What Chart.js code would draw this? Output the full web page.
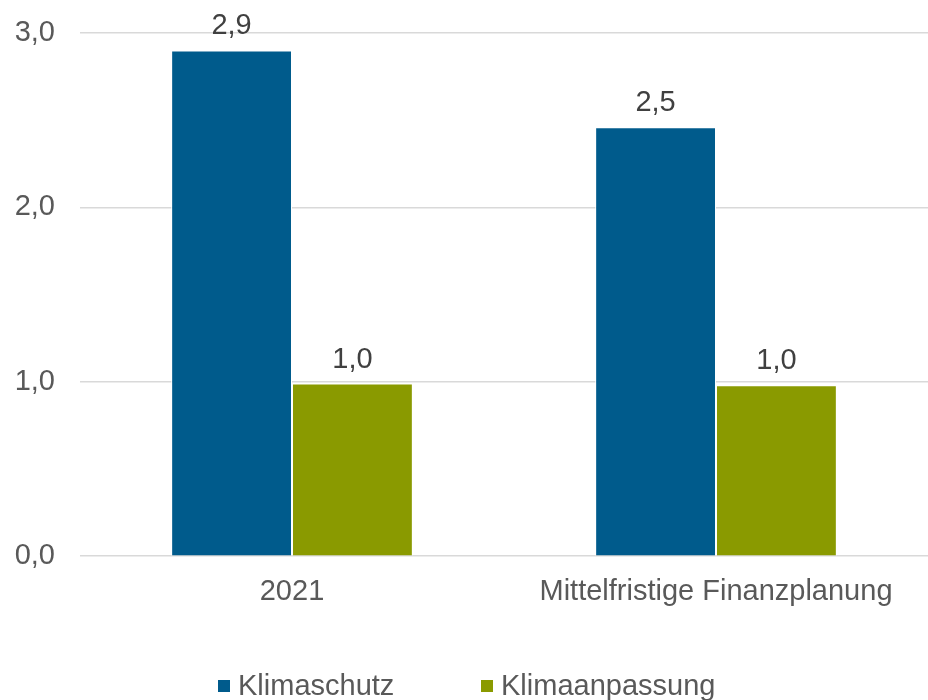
<!DOCTYPE html>
<html>
<head>
<meta charset="utf-8">
<script src="https://cdn.jsdelivr.net/npm/chart.js@4"></script>
<style>
  html, body { margin: 0; padding: 0; background: #fff; }
  #wrap { width: 928px; height: 700px; position: relative; }
</style>
</head>
<body>
<div id="wrap"><canvas id="chart"></canvas></div>
<script>
const categories = ["2021", "Mittelfristige Finanzplanung"];
const seriesNames = ["Klimaschutz", "Klimaanpassung"];
const klimaschutz = [2.9, 2.46];
const klimaanpassung = [0.99, 0.98];
const colors = ["#005B8C", "#8A9A00"];

const FONT = "'Liberation Sans', Arial, sans-serif";
const fmt = v => v.toFixed(1).replace(".", ",");

// value labels above each bar
const valueLabels = {
    id: "valueLabels",
    afterDatasetsDraw(chart) {
        const ctx = chart.ctx;
        ctx.save();
        ctx.font = "29px " + FONT;
        ctx.fillStyle = "#404040";
        ctx.textAlign = "center";
        ctx.textBaseline = "middle";
        chart.data.datasets.forEach((ds, i) => {
            chart.getDatasetMeta(i).data.forEach((bar, j) => {
                ctx.fillText(fmt(ds.data[j]), bar.x, bar.y - 24);
            });
        });
        ctx.restore();
    }
};

// legend spaced like the original
const bottomLegend = {
    id: "bottomLegend",
    afterDraw(chart) {
        const ctx = chart.ctx;
        const starts = [218, 481];
        ctx.save();
        ctx.font = "29px " + FONT;
        ctx.textBaseline = "middle";
        chart.data.datasets.forEach((ds, i) => {
            ctx.fillStyle = ds.backgroundColor;
            ctx.fillRect(starts[i], 680, 12, 12);
            ctx.fillStyle = "#595959";
            ctx.fillText(ds.label, starts[i] + 20, 687);
        });
        ctx.restore();
    }
};

new Chart(document.getElementById("chart"), {
    type: "bar",
    data: {
        labels: categories,
        datasets: [
            {label: seriesNames[0], data: klimaschutz, backgroundColor: colors[0]},
            {label: seriesNames[1], data: klimaanpassung, backgroundColor: colors[1]}
        ].map(ds => ({...ds, borderColor: "#ffffff", borderWidth: 1, categoryPercentage: 0.57, barPercentage: 1}))
    },
    options: {
        responsive: true,
        maintainAspectRatio: false,
        animation: false,
        layout: {padding: {top: 33, left: 15, right: 0, bottom: 73}},
        plugins: {
            legend: {display: false},
            tooltip: {enabled: false}
        },
        scales: {
            x: {
                grid: {display: false, drawTicks: false},
                border: {display: false},
                ticks: {
                    color: "#595959",
                    padding: 18,
                    font: {size: 29, family: FONT}
                }
            },
            y: {
                min: 0,
                max: 3,
                afterFit: scale => {
                    scale.width = 65;
                    scale.paddingTop = 0;
                },
                grid: {color: "#d9d9d9", lineWidth: 1.5, drawTicks: false},
                border: {display: false},
                ticks: {
                    stepSize: 1,
                    color: "#595959",
                    padding: 25,
                    font: {size: 29, family: FONT},
                    callback: v => fmt(v)
                }
            }
        }
    },
    plugins: [valueLabels, bottomLegend]
});
</script>
</body>
</html>
